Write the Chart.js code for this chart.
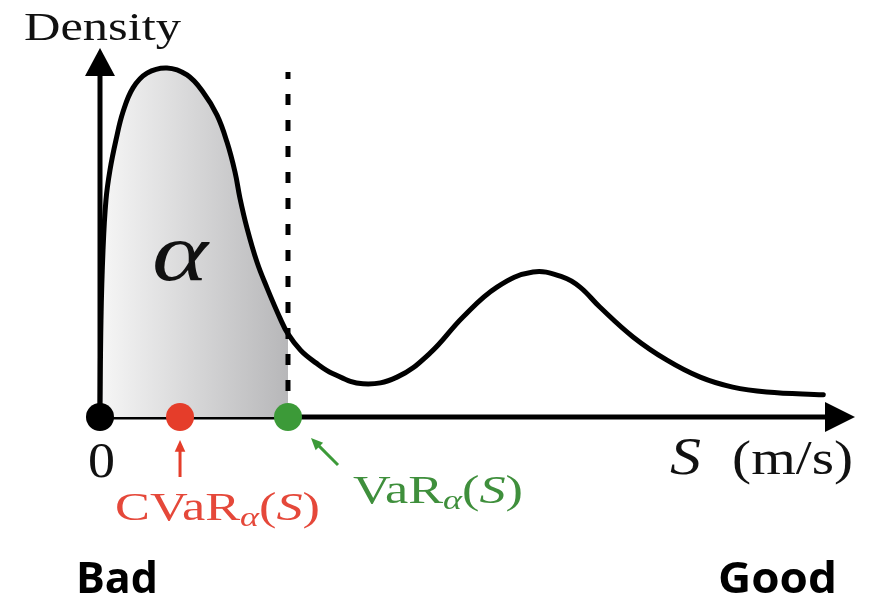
<!DOCTYPE html>
<html>
<head>
<meta charset="utf-8">
<script src="https://cdn.jsdelivr.net/npm/chart.js@4"></script>
<style>
  html, body { margin: 0; padding: 0; background: #fff; }
  #wrap { width: 871px; height: 597px; position: relative; }
</style>
</head>
<body>
<div id="wrap"><canvas id="densityChart"></canvas></div>
<script>
// ==========================================
// Density of S with VaR / CVaR markers
// ==========================================

// Curve (S in arbitrary units, density normalised)
const sValues = [0, 0.013, 0.04, 0.079, 0.132, 0.212, 0.305, 0.437, 0.623, 0.887, 1.152, 1.364, 1.55, 1.682, 1.788, 1.854, 1.947, 2.079, 2.212, 2.384, 2.49, 2.66, 2.85, 3.08, 3.483, 3.934, 4.371, 4.808, 5.258, 5.735, 6.132, 6.358, 6.62, 7.06, 7.51, 7.95, 8.38, 8.83, 9.58];
const densityValues = [0, 0.263, 0.453, 0.588, 0.669, 0.751, 0.827, 0.892, 0.932, 0.946, 0.927, 0.881, 0.818, 0.745, 0.664, 0.593, 0.512, 0.420, 0.350, 0.268, 0.225, 0.180, 0.148, 0.118, 0.090, 0.108, 0.173, 0.271, 0.352, 0.393, 0.379, 0.352, 0.298, 0.217, 0.154, 0.108, 0.081, 0.068, 0.060];

// Markers on the S axis
const markerNames = ['0', 'CVaR', 'VaR'];
const markerValues = [0, 1.06, 2.49];
const markerColors = ['#000000', '#e53d2a', '#3c9a38'];
const VAR_LINE_TOP = 0.935;

// Axis extents
const S_MAX = 10;
const DENSITY_MAX = 1;

const VAR = markerValues[2];
const curve = sValues.map((s, i) => ({ x: s, y: densityValues[i] }));
const shaded = curve.filter(p => p.x <= VAR);

// Axes with arrow heads
const axesPlugin = {
  id: 'arrowAxes',
  beforeDatasetsDraw(chart) {
    const { ctx, scales: { x, y } } = chart;
    const x0 = x.getPixelForValue(0), y0 = y.getPixelForValue(0);
    const xEnd = x.getPixelForValue(S_MAX), yEnd = y.getPixelForValue(DENSITY_MAX);
    ctx.save();
    ctx.strokeStyle = '#000';
    ctx.fillStyle = '#000';
    ctx.lineWidth = 5;
    ctx.beginPath();
    ctx.moveTo(x0, y0);
    ctx.lineTo(xEnd - 20, y0);
    ctx.moveTo(x0, y0);
    ctx.lineTo(x0, yEnd + 20);
    ctx.stroke();
    // x arrow
    ctx.beginPath();
    ctx.moveTo(xEnd, y0);
    ctx.lineTo(xEnd - 30, y0 - 15);
    ctx.lineTo(xEnd - 30, y0 + 15);
    ctx.closePath();
    ctx.fill();
    // y arrow
    ctx.beginPath();
    ctx.moveTo(x0, yEnd);
    ctx.lineTo(x0 - 15, yEnd + 28);
    ctx.lineTo(x0 + 15, yEnd + 28);
    ctx.closePath();
    ctx.fill();
    ctx.restore();
  }
};

// Text with optional sub-parts, stretched to a given width
function drawRich(ctx, parts, x, y, width, color) {
  ctx.save();
  let total = 0;
  parts.forEach(p => {
    ctx.font = p.font;
    p.w = ctx.measureText(p.t).width;
    total += p.w;
  });
  const sx = width ? width / total : 1;
  ctx.translate(x, y);
  ctx.scale(sx, 1);
  ctx.fillStyle = color;
  ctx.textAlign = 'left';
  ctx.textBaseline = 'alphabetic';
  let cx = 0;
  parts.forEach(p => {
    ctx.font = p.font;
    ctx.fillText(p.t, cx, p.dy || 0);
    cx += p.w;
  });
  ctx.restore();
}

function drawArrow(ctx, fx, fy, tx, ty, color) {
  const ang = Math.atan2(ty - fy, tx - fx);
  ctx.save();
  ctx.strokeStyle = color;
  ctx.fillStyle = color;
  ctx.lineWidth = 3;
  ctx.beginPath();
  ctx.moveTo(fx, fy);
  ctx.lineTo(tx - 8 * Math.cos(ang), ty - 8 * Math.sin(ang));
  ctx.stroke();
  ctx.beginPath();
  ctx.moveTo(tx, ty);
  ctx.lineTo(tx - 13 * Math.cos(ang - 0.42), ty - 13 * Math.sin(ang - 0.42));
  ctx.lineTo(tx - 13 * Math.cos(ang + 0.42), ty - 13 * Math.sin(ang + 0.42));
  ctx.closePath();
  ctx.fill();
  ctx.restore();
}

const SERIF = '"Liberation Serif", "DejaVu Serif", serif';

const labelsPlugin = {
  id: 'labels',
  afterDraw(chart) {
    const { ctx, scales: { x, y } } = chart;
    const x0 = x.getPixelForValue(0), y0 = y.getPixelForValue(0);
    const xc = x.getPixelForValue(markerValues[1]);
    const xv = x.getPixelForValue(markerValues[2]);

    drawRich(ctx, [{ t: 'Density', font: `40px ${SERIF}` }], x0 - 76, 40, 157, '#111');
    drawRich(ctx, [{ t: 'α', font: `italic 82px ${SERIF}` }], x0 + 52, 280, 56, '#111');
    drawRich(ctx, [{ t: '0', font: `50px ${SERIF}` }], x0 - 12, y0 + 60, 27, '#111');

    drawArrow(ctx, xc, y0 + 60, xc, y0 + 23, '#e53d2a');
    drawRich(ctx, [
      { t: 'CVaR', font: `39px ${SERIF}` },
      { t: 'α', font: `italic 27px ${SERIF}`, dy: 6 },
      { t: '(', font: `39px ${SERIF}` },
      { t: 'S', font: `italic 39px ${SERIF}` },
      { t: ')', font: `39px ${SERIF}` }
    ], xc - 65, y0 + 103, 205, '#e5483a');

    drawArrow(ctx, xv + 50, y0 + 48, xv + 23, y0 + 21, '#3c9a38');
    drawRich(ctx, [
      { t: 'VaR', font: `39px ${SERIF}` },
      { t: 'α', font: `italic 27px ${SERIF}`, dy: 6 },
      { t: '(', font: `39px ${SERIF}` },
      { t: 'S', font: `italic 39px ${SERIF}` },
      { t: ')', font: `39px ${SERIF}` }
    ], xv + 65, y0 + 86, 170, '#3f8f3c');

    drawRich(ctx, [
      { t: 'S', font: `italic 52px ${SERIF}` },
      { t: '  ', font: `52px ${SERIF}` },
      { t: '(m/s)', font: `48px ${SERIF}` }
    ], 670, y0 + 57, 183, '#111');

    drawRich(ctx, [{ t: 'Bad', font: `bold 43px "Open Sans", "Noto Sans", sans-serif` }], 76, 593, 82, '#000');
    drawRich(ctx, [{ t: 'Good', font: `bold 43px "Open Sans", "Noto Sans", sans-serif` }], 718, 593, 119, '#000');
  }
};

const ctx = document.getElementById('densityChart');

new Chart(ctx, {
  type: 'scatter',
  data: {
    datasets: [
      {
        label: 'markers',
        data: markerValues.map(v => ({ x: v, y: 0 })),
        pointBackgroundColor: markerColors,
        pointBorderWidth: 0,
        pointRadius: 14,
        showLine: false,
        clip: false,
        order: 0
      },
      {
        label: 'density',
        data: curve,
        showLine: true,
        borderColor: '#000',
        borderWidth: 5,
        borderCapStyle: 'round',
        borderJoinStyle: 'round',
        pointRadius: 0,
        tension: 0.4,
        fill: false,
        clip: false,
        order: 1
      },
      {
        label: 'VaR line',
        data: [{ x: VAR, y: 0 }, { x: VAR, y: VAR_LINE_TOP }],
        showLine: true,
        borderColor: '#000',
        borderWidth: 5,
        borderDash: [11, 15],
        pointRadius: 0,
        order: 2
      },
      {
        label: 'alpha area',
        data: shaded,
        showLine: true,
        borderWidth: 0,
        pointRadius: 0,
        tension: 0.4,
        fill: 'origin',
        backgroundColor: (c) => {
          const chart = c.chart;
          if (!chart.chartArea) return '#d8d8d8';
          const xs = chart.scales.x;
          const g = chart.ctx.createLinearGradient(xs.getPixelForValue(0), 0, xs.getPixelForValue(VAR), 0);
          g.addColorStop(0, '#f6f6f6');
          g.addColorStop(1, '#b7b7b9');
          return g;
        },
        order: 3
      }
    ]
  },
  options: {
    responsive: true,
    maintainAspectRatio: false,
    animation: false,
    layout: { padding: { left: 100, top: 48, right: 16, bottom: 180 } },
    plugins: {
      legend: { display: false },
      tooltip: { enabled: false }
    },
    scales: {
      x: { type: 'linear', min: 0, max: S_MAX, display: false },
      y: { type: 'linear', min: 0, max: DENSITY_MAX, display: false }
    }
  },
  plugins: [axesPlugin, labelsPlugin]
});
</script>
</body>
</html>
